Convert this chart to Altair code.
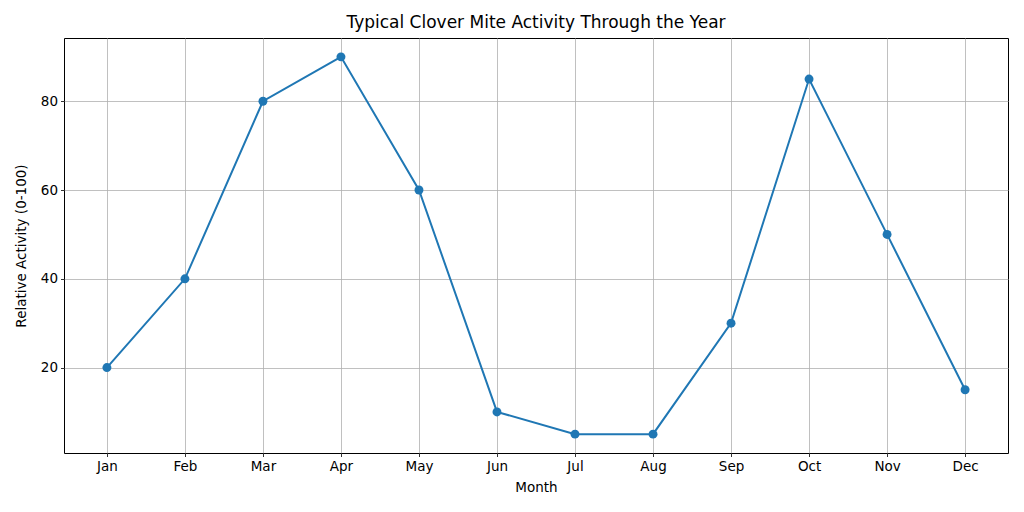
import altair as alt
import pandas as pd

months = ["Jan", "Feb", "Mar", "Apr", "May", "Jun", "Jul", "Aug", "Sep", "Oct", "Nov", "Dec"]
activity = [20, 40, 80, 90, 60, 10, 5, 5, 30, 85, 50, 15]
month_index = list(range(len(months)))

df = pd.DataFrame({"idx": month_index, "month": months, "activity": activity})

label_expr = "[" + ",".join(f"'{m}'" for m in months) + "][datum.value]"

font = "DejaVu Sans"
blue = "#1f77b4"

x = alt.X(
    "idx:Q",
    title="Month",
    scale=alt.Scale(domain=[-0.55, 11.55], nice=False, zero=False),
    axis=alt.Axis(
        values=month_index,
        labelExpr=label_expr,
        grid=True,
        gridColor="#b0b0b0",
        gridWidth=0.8,
        domain=False,
        tickColor="black",
        tickSize=3.5,
        tickWidth=0.8,
        labelPadding=3,
        labelFontSize=13.5,
        labelColor="black",
        labelFont=font,
        titleFont=font,
        titleFontSize=13.5,
        titleFontWeight="normal",
        titleColor="black",
        titlePadding=7,
    ),
)
y = alt.Y(
    "activity:Q",
    title="Relative Activity (0-100)",
    scale=alt.Scale(domain=[0.75, 94.25], nice=False, zero=False),
    axis=alt.Axis(
        values=[20, 40, 60, 80],
        grid=True,
        gridColor="#b0b0b0",
        gridWidth=0.8,
        domain=False,
        tickColor="black",
        tickSize=3.5,
        tickWidth=0.8,
        labelPadding=3,
        labelFontSize=13.5,
        labelColor="black",
        labelFont=font,
        titleFont=font,
        titleFontSize=13.5,
        titleFontWeight="normal",
        titleColor="black",
        titlePadding=12,
    ),
)

line = alt.Chart(df).mark_line(color=blue, strokeWidth=2).encode(x=x, y=y)
pts = alt.Chart(df).mark_point(filled=True, color=blue, size=80, opacity=1).encode(x=x, y=y)

chart = (
    alt.layer(line, pts)
    .properties(
        width=944,
        height=415,
        autosize=alt.AutoSizeParams(type="none"),
        padding={"left": 56, "top": 30, "right": 8, "bottom": 51},
        title=alt.TitleParams(
            "Typical Clover Mite Activity Through the Year",
            font=font,
            fontSize=17,
            fontWeight="normal",
            color="black",
            anchor="middle",
            offset=6,
        ),
    )
    .configure(background="white")
    .configure_view(stroke="black", strokeWidth=1)
)

chart.save("out.html", embed_options={"renderer": "svg", "actions": False})
